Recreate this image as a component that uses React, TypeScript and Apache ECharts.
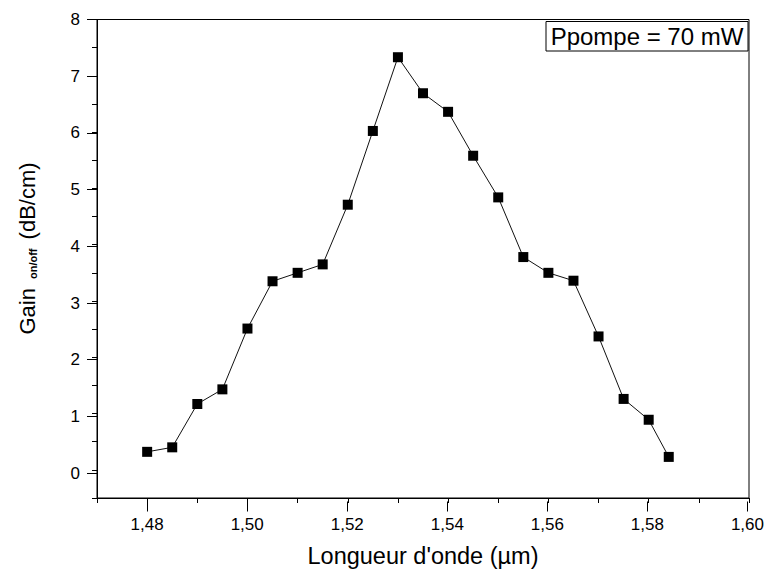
import React, { useEffect, useRef } from "react";
import * as echarts from "echarts";

const wavelengths = [1.48, 1.485, 1.49, 1.495, 1.5, 1.505, 1.51, 1.515, 1.52, 1.525, 1.53, 1.535, 1.54, 1.545, 1.55, 1.555, 1.56, 1.565, 1.57, 1.575, 1.58, 1.584];
const gains = [0.32, 0.40, 1.17, 1.43, 2.51, 3.35, 3.50, 3.65, 4.71, 6.02, 7.33, 6.69, 6.36, 5.58, 4.84, 3.78, 3.50, 3.36, 2.37, 1.26, 0.89, 0.23];
const legendText = "Ppompe = 70 mW";
const xTitle = "Longueur d'onde (µm)";

const FONT = "'Liberation Sans', Arial, sans-serif";

export default function App() {
  const ref = useRef<HTMLDivElement>(null);
  useEffect(() => {
    document.body.style.margin = "0";
    const chart = echarts.init(ref.current!, null, { renderer: "svg" });
    const W = 767;
    const H = 573;
    const gLeft = 97;
    const gRight = 18;
    const gTop = 19.5;
    const gBottom = 71.5;
    const xMin = 1.47, xMax = 1.6, yMin = -0.5, yMax = 8;
    const pxPerX = (W - gLeft - gRight) / (xMax - xMin);
    const pxPerY = (H - gTop - gBottom) / (yMax - yMin);
    const majorLeft = gLeft + (1.48 - xMin) * pxPerX;
    const majorBottom = gBottom + (0 - yMin) * pxPerY;

    const black = "#000";
    chart.setOption({
      animation: false,
      backgroundColor: "#fff",
      textStyle: { fontFamily: FONT, color: black },
      grid: [
        { left: gLeft, right: gRight, top: gTop, bottom: gBottom, show: true, borderColor: black, borderWidth: 1, backgroundColor: "transparent" },
        { left: majorLeft, right: gRight, top: gTop, bottom: gBottom },
        { left: gLeft, right: gRight, top: gTop, bottom: majorBottom },
      ],
      xAxis: [
        {
          type: "value", gridIndex: 0, min: xMin, max: xMax, interval: 0.01,
          axisLine: { show: true, onZero: false, lineStyle: { color: black, width: 1 } },
          axisTick: { show: true, length: 5, lineStyle: { color: black } },
          axisLabel: { show: false },
          splitLine: { show: false },
          name: xTitle, nameLocation: "middle", nameGap: 46,
          nameTextStyle: { fontSize: 23.5, color: black, fontFamily: FONT },
        },
        {
          type: "value", gridIndex: 1, min: 1.48, max: xMax, interval: 0.02,
          axisLine: { show: false, onZero: false },
          axisTick: { show: true, length: 10, lineStyle: { color: black } },
          axisLabel: { show: true, fontSize: 17, color: black, margin: 14, fontFamily: FONT, formatter: (v: number) => v.toFixed(2).replace(".", ",") },
          splitLine: { show: false },
        },
        { type: "value", gridIndex: 2, min: xMin, max: xMax, show: false, splitLine: { show: false } },
      ],
      yAxis: [
        {
          type: "value", gridIndex: 0, min: yMin, max: yMax, interval: 0.5,
          axisLine: { show: true, onZero: false, lineStyle: { color: black, width: 1 } },
          axisTick: { show: true, length: 5, lineStyle: { color: black } },
          axisLabel: { show: false },
          splitLine: { show: false },
        },
        { type: "value", gridIndex: 1, min: yMin, max: yMax, show: false, splitLine: { show: false } },
        {
          type: "value", gridIndex: 2, min: 0, max: yMax, interval: 1,
          axisLine: { show: false, onZero: false },
          axisTick: { show: true, length: 10, lineStyle: { color: black } },
          axisLabel: { show: true, fontSize: 17, color: black, margin: 17, fontFamily: FONT },
          splitLine: { show: false },
        },
      ],
      series: [
        {
          type: "line",
          xAxisIndex: 0,
          yAxisIndex: 0,
          data: wavelengths.map((x, i) => [x, gains[i]]),
          symbol: "rect",
          symbolSize: 10,
          showAllSymbol: true,
          itemStyle: { color: black },
          lineStyle: { color: "#111", width: 1 },
          z: 3,
        },
      ],
      graphic: [
        {
          type: "rect",
          shape: { x: 546, y: 21.5, width: 202, height: 29.5 },
          style: { fill: "#fff", stroke: black, lineWidth: 1 },
          z: 10,
        },
        {
          type: "text",
          x: 647,
          y: 36.5,
          style: { text: legendText, fontSize: 24, fontFamily: FONT, fill: black, align: "center", verticalAlign: "middle" },
          z: 11,
        },
        {
          type: "text",
          x: 25,
          y: 248.5,
          rotation: Math.PI / 2,
          style: {
            text: "{a|Gain }{s|on/off}{a| (dB/cm)}",
            align: "center",
            verticalAlign: "middle",
            fill: black,
            rich: {
              a: { fontSize: 22, fontFamily: FONT, fill: black, verticalAlign: "bottom", lineHeight: 26 },
              s: { fontSize: 11, fontWeight: "bold", fontFamily: FONT, fill: black, verticalAlign: "bottom", lineHeight: 26, padding: [0, 3, 0, 3] },
            },
          },
          z: 11,
        },
      ],
    });
    return () => chart.dispose();
  }, []);
  return <div ref={ref} style={{ position: "absolute", left: 0, top: 0, width: 767, height: 573 }} />;
}
